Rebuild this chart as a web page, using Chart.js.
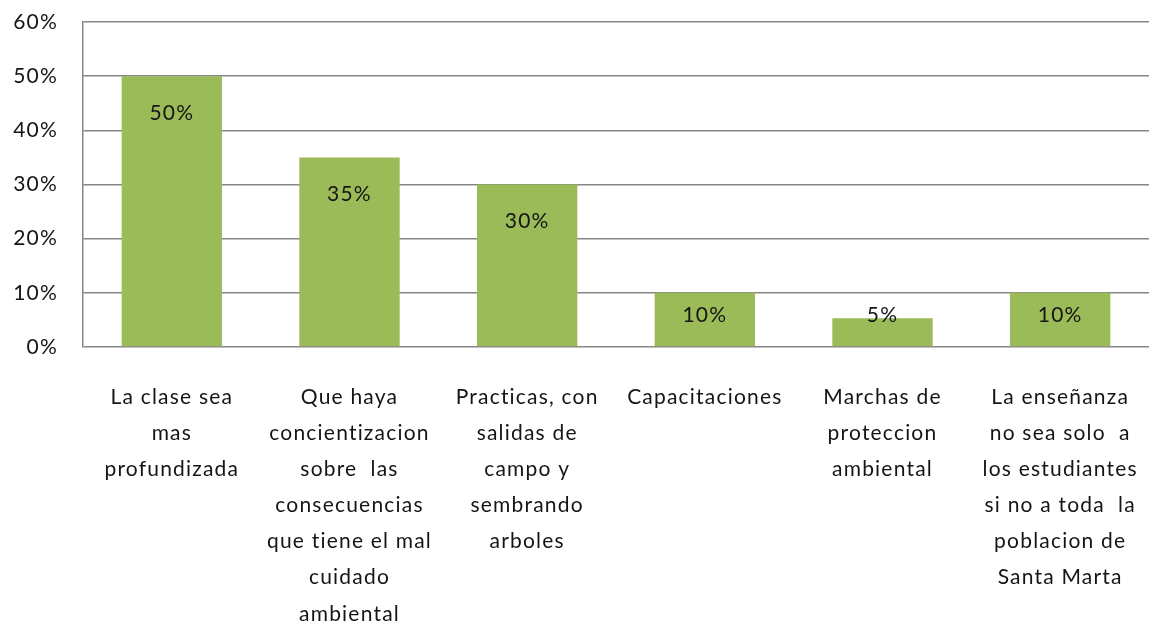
<!DOCTYPE html>
<html>
<head>
<meta charset="utf-8">
<script src="https://cdn.jsdelivr.net/npm/chart.js@4/dist/chart.umd.min.js"></script>
<style>
  html, body { margin: 0; padding: 0; background: #fff; }
  #wrap { width: 1150px; height: 635px; }
</style>
</head>
<body>
<div id="wrap"><canvas id="chart" width="1150" height="635"></canvas></div>
<script>
// categories (each one split in lines like in the original)
const categories = [
  ["La clase sea", "mas", "profundizada"],
  ["Que haya", "concientizacion", "sobre  las", "consecuencias", "que tiene el mal", "cuidado", "ambiental"],
  ["Practicas, con", "salidas de", "campo y", "sembrando", "arboles"],
  ["Capacitaciones"],
  ["Marchas de", "proteccion", "ambiental"],
  ["La enseñanza", "no sea solo  a", "los estudiantes", "si no a toda  la", "poblacion de", "Santa Marta"],
];
// series values (share of answers)
const values = [0.50, 0.35, 0.30, 0.10, 0.053, 0.10];
// y tick values
const yTicks = [0, 0.1, 0.2, 0.3, 0.4, 0.5, 0.6];

const textColor = "#151515";
const barColor = "#9bbb59";
const gridColor = "#868686";
const fontFamily = "Lato, 'Open Sans', sans-serif";
const fontSize = 21;
const spacing = "1.2px";

const pct = (v) => Math.round(v * 100) + "%";

//wider letters, the original text is stretched
const letterSpacing = {
  id: "letterSpacing",
  beforeLayout(chart) {
    chart.ctx.letterSpacing = spacing;
  },
  beforeDraw(chart) {
    chart.ctx.letterSpacing = spacing;
  },
};

//draws the value inside each bar
const valueLabels = {
  id: "valueLabels",
  afterDatasetsDraw(chart) {
    const ctx = chart.ctx;
    const meta = chart.getDatasetMeta(0);
    ctx.save();
    ctx.font = fontSize + "px " + fontFamily;
    ctx.fillStyle = textColor;
    ctx.textAlign = "center";
    ctx.textBaseline = "middle";
    meta.data.forEach((bar, i) => {
      const h = bar.base - bar.y;
      const y = h > 80 ? bar.y + 37 : bar.base - 31;
      ctx.fillText(pct(values[i]), bar.x, y);
    });
    ctx.restore();
  },
};

new Chart(document.getElementById("chart"), {
  type: "bar",
  plugins: [letterSpacing, valueLabels],
  data: {
    labels: categories,
    datasets: [
      {
        data: values,
        backgroundColor: barColor,
        borderWidth: 0,
        barPercentage: 0.565,
        categoryPercentage: 1,
      },
    ],
  },
  options: {
    responsive: false,
    animation: false,
    layout: { padding: { top: 22, right: 1, left: 0, bottom: 0 } },
    plugins: {
      legend: { display: false },
      tooltip: { enabled: false },
    },
    scales: {
      x: {
        grid: { display: false, drawTicks: false },
        border: { display: false },
        ticks: {
          color: textColor,
          font: { family: fontFamily, size: fontSize, lineHeight: 1.72 },
          padding: 32,
          maxRotation: 0,
          minRotation: 0,
          autoSkip: false,
        },
        afterFit: (scale) => {
          scale.height = 288;
          scale.paddingLeft = 0;
          scale.paddingRight = 0;
        },
      },
      y: {
        min: 0,
        max: 0.6,
        afterBuildTicks: (scale) => {
          scale.ticks = yTicks.map((v) => ({ value: v }));
        },
        grid: { color: gridColor, lineWidth: 1.5, drawTicks: false },
        border: { display: true, color: gridColor, width: 1.5 },
        ticks: {
          color: textColor,
          font: { family: fontFamily, size: fontSize },
          padding: 25,
          callback: (v) => pct(v),
        },
        afterFit: (scale) => {
          scale.width = 83;
          scale.paddingTop = 0;
          scale.paddingBottom = 0;
        },
      },
    },
  },
});
</script>
</body>
</html>
